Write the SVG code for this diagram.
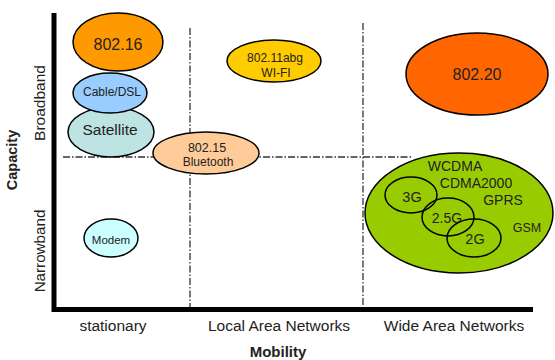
<svg xmlns="http://www.w3.org/2000/svg" width="555" height="360" viewBox="0 0 555 360">
<style>
text{font-family:"Liberation Sans",Arial,sans-serif;fill:#222;text-anchor:middle}
.n ellipse{stroke:#000;stroke-width:1.5}
.m{font-size:16px}
.s{font-size:12px}
.g{font-size:14px}
.l{font-size:15.5px}
.dash{stroke:#333;stroke-width:1.3;fill:none;stroke-dasharray:7,2,1.5,2}
.ax{stroke:#000;stroke-width:5;fill:none}
</style>
<rect width="555" height="360" fill="#fff"/>
<g id="connectors">
<path class="dash" d="M63,157 H412"/>
<path class="dash" d="M190,28 V307"/>
<path class="dash" d="M363,23 V307"/>
<path class="ax" d="M54,13 V309.5 H533"/>
</g>
<g id="axes-labels">
<text x="113" y="331" class="l">stationary</text>
<text x="279" y="331" class="l">Local Area Networks</text>
<text x="454" y="331" class="l">Wide Area Networks</text>
<text x="278" y="357" font-size="15" font-weight="bold">Mobility</text>
<text transform="translate(17,160) rotate(-90)" font-size="14.5" font-weight="bold">Capacity</text>
<text transform="translate(45,103) rotate(-90)" font-size="15.5">Broadband</text>
<text transform="translate(45,251) rotate(-90)" font-size="15.2">Narrowband</text>
</g>
<g id="n80216" class="n"><ellipse cx="118" cy="42" rx="45" ry="29" fill="#FF9900"/><text x="118" y="50" class="m">802.16</text></g>
<g id="satellite" class="n"><ellipse cx="111" cy="132" rx="43" ry="25" fill="#BDE3E3"/><text x="110" y="135" font-size="15.5">Satellite</text></g>
<g id="cable" class="n"><ellipse cx="110" cy="93" rx="37" ry="20" fill="#99CCFF"/><text x="112" y="96" class="s">Cable/DSL</text></g>
<g id="n80215" class="n"><ellipse cx="206" cy="153" rx="53" ry="21" fill="#FFCC99"/><text x="207" y="152" font-size="12.5">802.15</text><text x="208" y="166" font-size="12">Bluetooth</text></g>
<g id="wifi" class="n"><ellipse cx="274" cy="61" rx="47" ry="21" fill="#FFCC00"/><text x="275" y="62" class="s">802.11abg</text><text x="276" y="77" class="s">WI-FI</text></g>
<g id="n80220" class="n"><ellipse cx="477" cy="74" rx="71" ry="41" fill="#FF6600"/><text x="477" y="80" class="m">802.20</text></g>
<g id="wan" class="n"><ellipse cx="459" cy="213" rx="94" ry="60" fill="#99CC00"/>
<text x="455" y="171" class="g">WCDMA</text>
<text x="476" y="188" class="g">CDMA2000</text>
<text x="503" y="205" class="g">GPRS</text>
<text x="527" y="232" font-size="12.5">GSM</text></g>
<g id="g3" class="n"><ellipse cx="411" cy="195" rx="26" ry="18" fill="none"/><text x="412" y="202" font-size="14.5">3G</text></g>
<g id="g25" class="n"><ellipse cx="448" cy="217" rx="26" ry="19" fill="none"/><text x="447" y="223" class="g">2.5G</text></g>
<g id="g2" class="n"><ellipse cx="474" cy="238" rx="27" ry="19" fill="none"/><text x="475" y="244" font-size="14.5">2G</text></g>
<g id="modem" class="n"><ellipse cx="111" cy="238" rx="27" ry="19" fill="#CCFFFF"/><text x="111" y="244" font-size="11.5">Modem</text></g>
</svg>
